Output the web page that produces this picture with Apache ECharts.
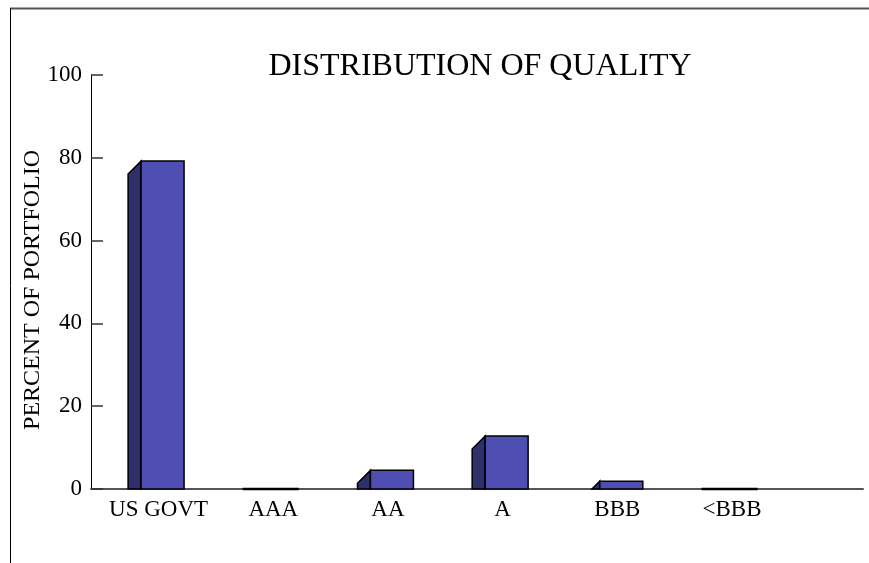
<!DOCTYPE html>
<html>
<head>
<meta charset="utf-8">
<script src="https://cdn.jsdelivr.net/npm/echarts@6/dist/echarts.min.js"></script>
<style>
html,body{margin:0;padding:0;background:#fff;}
#chart{width:869px;height:563px;}
</style>
</head>
<body>
<div id="chart"></div>
<script>
const categories = ['US GOVT', 'AAA', 'AA', 'A', 'BBB', '<BBB'];
const values = [79.2, 0, 4.5, 12.8, 1.9, 0];
const yTicks = [0, 20, 40, 60, 80, 100];
const titleText = 'DISTRIBUTION OF QUALITY';
const yName = 'PERCENT OF PORTFOLIO';

const FONT = '"Liberation Serif", "Times New Roman", serif';
const FRONT = '#4e4eb3';
const SIDE = '#2f2f6c';

const chart = echarts.init(document.getElementById('chart'), null, {renderer: 'canvas'});

const data = values.map((v, i) => [i, v]);

function renderItem(params, api) {
  const c = api.value(0), v = api.value(1);
  const base = api.coord([c, 0]);
  const top = api.coord([c, v]);
  const unit = api.size([1, 0])[0];
  const fl = base[0] - 0.153 * unit;
  const fr = fl + 0.375 * unit;
  const d = 0.113 * unit;
  const b = base[1], t = top[1];
  const h = b - t;
  const children = [];
  if (v <= 0) {
    children.push({
      type: 'line',
      shape: {x1: fl - d, y1: b, x2: fr, y2: b},
      style: {stroke: '#000', lineWidth: 2.5}
    });
  } else {
    let pts;
    if (h >= d) {
      pts = [[fl - d, b], [fl - d, t + d], [fl, t], [fl, b]];
    } else {
      pts = [[fl - h, b], [fl, t], [fl, b]];
    }
    children.push({
      type: 'polygon',
      shape: {points: pts},
      style: {fill: SIDE, stroke: '#000', lineWidth: 1.5, lineJoin: 'miter'}
    });
    children.push({
      type: 'rect',
      shape: {x: fl, y: t, width: fr - fl, height: h},
      style: {fill: FRONT, stroke: '#000', lineWidth: 1.5}
    });
  }
  return {type: 'group', children: children};
}

const option = {
  backgroundColor: '#fff',
  animation: false,
  title: {
    text: titleText,
    left: 475,
    top: 46,
    textAlign: 'center',
    textStyle: {fontFamily: FONT, fontSize: 32, fontWeight: 'normal', color: '#000'}
  },
  grid: {left: 91, right: 6, top: 75, bottom: 74, containLabel: false},
  xAxis: {
    type: 'value',
    min: -0.5895,
    max: 6.142,
    splitLine: {show: false},
    axisTick: {show: false},
    axisLine: {show: true, onZero: false, lineStyle: {color: '#555', width: 2}},
    axisLabel: {
      customValues: categories.map((c, i) => i),
      formatter: function (val) {
        const i = Math.round(val);
        return categories[i] !== undefined ? categories[i] : '';
      },
      margin: 9,
      fontFamily: FONT,
      fontSize: 23,
      color: '#000'
    }
  },
  yAxis: {
    type: 'value',
    min: 0,
    max: 100,
    interval: 20,
    name: yName,
    nameLocation: 'middle',
    nameRotate: 90,
    nameGap: 46,
    nameMoveOverlap: false,
    nameTextStyle: {fontFamily: FONT, fontSize: 24, color: '#000', padding: [0, 16, 0, 0]},
    splitLine: {show: false},
    axisLine: {show: true, onZero: false, lineStyle: {color: '#000', width: 1}},
    axisTick: {show: true, inside: true, length: 12, lineStyle: {color: '#333', width: 1.5}},
    axisLabel: {
      customValues: yTicks,
      margin: 9,
      fontFamily: FONT,
      fontSize: 23,
      color: '#000'
    }
  },
  graphic: [
    {type: 'line', shape: {x1: 10, y1: 8.5, x2: 869, y2: 8.5}, style: {stroke: '#555', lineWidth: 2}, z: 10},
    {type: 'line', shape: {x1: 10.5, y1: 8, x2: 10.5, y2: 563}, style: {stroke: '#000', lineWidth: 1}, z: 10}
  ],
  series: [{
    type: 'custom',
    renderItem: renderItem,
    data: data,
    encode: {x: 0, y: 1},
    clip: false
  }]
};

chart.setOption(option);
</script>
</body>
</html>
